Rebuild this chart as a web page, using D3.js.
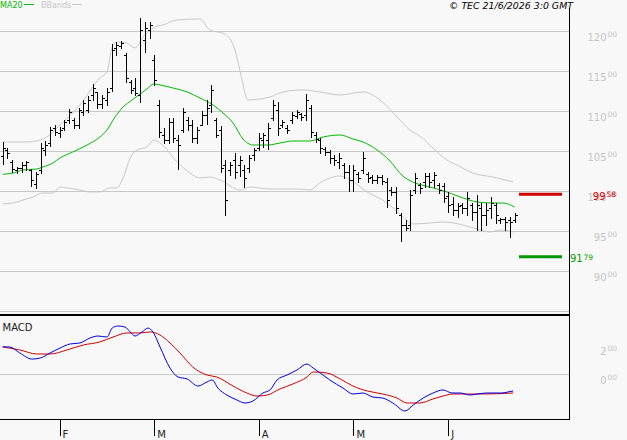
<!DOCTYPE html>
<html>
<head>
<meta charset="utf-8">
<script src="https://cdn.jsdelivr.net/npm/d3@7"></script>
<style>
body { margin: 0; background: #f8f8f8; }
svg { display: block; font-family: "DejaVu Sans", sans-serif; }
</style>
</head>
<body>
<div id="chart"></div>
<script>
// daily OHLC, one entry per trading day
var opens = [
    104.38,105.13,103.63,102.63,102.88,103.25,102.63,100.88,102.63,105.13,
    106.0,107.88,107.25,107.88,108.88,108.88,108.25,109.88,110.13,112.0,
    112.38,110.88,111.38,112.88,117.88,118.13,117.0,113.63,112.88,112.0,
    118.88,120.13,116.38,110.75,107.0,106.38,108.63,106.38,107.63,108.88,
    108.25,106.63,108.25,109.5,110.75,108.88,107.63,103.25,102.63,103.88,
    103.25,102.63,102.88,104.5,105.38,106.38,106.38,109.13,110.13,108.25,
    107.88,108.88,109.38,109.63,109.5,110.38,107.0,106.38,105.25,104.88,
    104.13,103.63,103.25,102.38,101.38,102.13,102.63,102.13,101.75,101.38,
    101.75,101.13,100.13,99.88,97.0,95.75,95.75,100.13,100.75,101.13,
    101.88,101.38,100.75,100.63,99.38,98.38,97.63,98.25,97.88,98.25,
    97.38,97.88,97.0,97.88,98.25,96.38,96.5,96.38,96.38];
var highs = [
    106.13,105.38,103.88,103.0,103.63,103.75,102.75,102.38,106.0,106.25,
    108.0,108.25,108.0,108.88,110.25,109.13,110.38,111.38,111.88,113.38,
    112.38,112.0,112.88,118.38,118.63,118.75,117.25,113.88,114.13,121.63,
    121.13,121.13,117.0,111.38,107.88,109.13,109.13,107.0,110.38,109.25,
    108.88,108.0,110.0,111.38,113.25,109.13,108.13,103.88,103.63,104.75,
    104.38,103.25,104.5,105.38,107.25,107.25,108.5,111.38,111.13,108.88,
    108.25,109.88,110.13,109.75,112.13,110.75,107.38,106.63,105.5,105.13,
    104.5,104.75,103.5,103.25,103.25,102.38,104.88,102.38,102.0,102.0,
    102.0,101.63,100.5,100.5,97.25,96.38,100.13,102.25,101.0,102.25,
    102.25,102.38,101.0,101.0,99.88,99.25,98.5,98.5,99.88,98.5,
    99.5,98.5,98.5,99.25,98.5,96.63,96.75,96.75,97.25];
var lows = [
    103.38,104.13,102.38,102.25,102.38,102.63,100.63,100.38,102.25,104.5,
    105.63,107.0,106.75,107.63,108.5,107.88,107.88,109.5,109.88,111.38,
    110.38,110.38,110.75,112.5,117.0,117.88,113.63,112.25,112.0,111.13,
    117.38,119.13,113.25,106.75,106.0,106.0,106.13,102.75,107.38,107.63,
    106.13,106.0,108.25,108.38,109.88,106.75,102.38,97.0,102.0,101.63,
    101.88,100.5,102.38,103.88,105.13,105.5,105.25,108.88,107.0,108.0,
    107.25,108.5,109.13,108.88,108.88,106.75,106.13,104.75,104.5,103.5,
    103.25,102.88,101.63,100.0,100.0,101.13,102.25,101.13,101.0,101.0,
    100.88,98.0,99.5,97.25,93.75,95.13,95.13,99.75,99.75,100.5,
    100.5,100.5,99.75,98.63,97.38,97.0,96.75,97.25,97.0,96.38,
    95.13,95.13,95.75,96.63,96.0,96.0,95.13,94.25,96.13];
var closes = [
    105.38,104.75,102.75,102.88,103.25,103.63,101.38,102.13,105.38,105.75,
    107.63,107.38,107.63,108.63,109.88,108.25,110.13,111.0,111.38,112.88,
    110.88,111.63,112.38,117.63,118.25,118.5,114.13,112.63,112.25,120.13,
    120.38,120.75,113.88,107.38,106.38,108.63,106.63,105.75,109.88,108.25,
    106.63,107.63,109.5,110.38,112.63,107.0,102.88,98.88,103.25,102.38,
    103.88,101.63,104.13,105.13,106.63,107.0,107.88,110.75,107.88,108.63,
    107.63,109.5,109.88,109.25,111.38,107.38,106.5,105.38,104.88,104.13,
    103.88,104.13,102.38,101.38,102.63,101.63,104.13,101.63,101.38,101.75,
    101.25,98.88,99.88,97.88,95.75,95.38,99.5,101.63,100.38,101.88,
    101.13,102.0,100.13,99.13,98.25,97.63,98.13,97.88,99.13,97.38,
    98.25,97.0,97.63,98.5,97.0,96.5,96.13,96.13,97.0];

var maIdx = [0,2.2,4.3,7.2,8.5,10.6,12.1,14.8,17.8,20.5,22,23.7,25.4,27.3,29,30.4,31.9,33.2,35.9,38.9,41.6,44.4,46.5,48.6,50.7,52.8,56,58.5,61.2,64.8,67.6,71.2,73.9,76,79,81.7,84.4,86.5,90.1,93.7,97.1,100.1,103.4,105.5,108];
var maVal = [102.09,102.25,102.63,102.75,103.0,103.5,104.13,104.88,105.75,106.75,107.63,109.25,110.5,111.38,112.13,112.75,113.38,113.25,112.88,112.38,111.63,110.75,109.75,108.5,106.5,105.75,105.75,106.0,106.25,106.25,106.75,107.0,106.5,106.13,105.13,103.75,101.88,101.13,100.5,99.88,99.13,98.63,98.5,98.5,98.0];
var upIdx = [0,5.1,7.9,9.3,12.1,16.3,20.5,22,23.1,24.3,26.2,27.9,29.6,31.7,33.8,36.8,41.6,43.7,46.9,49,50.5,51.7,56.4,59.1,63.4,66.9,71.2,76,79.6,83.2,85.9,88,91.2,93.7,95.8,99.2,103.4,107.7];
var upVal = [106.13,106.13,106.38,106.75,108.25,110.75,114.13,114.88,118.0,118.63,118.5,117.88,119.25,120.38,120.75,121.38,121.5,120.13,119.63,117.63,113.88,111.38,111.75,112.38,112.63,112.38,112.0,112.38,111.38,109.25,107.63,106.88,105.13,103.88,103.25,102.25,101.75,101.13];
var loIdx = [0,2.2,4.3,6.4,8.5,10.6,12.1,13.6,16.3,18.4,20.5,22.6,24.1,25.4,26.9,28.3,30.4,31.9,33.2,36.8,39.5,41.6,43.7,45.8,50.1,52.2,56.4,62.7,64.8,66.9,71.2,73.3,76.9,81.1,83.8,86.6,90.1,92.9,97.1,100.7,102.8,104.9,107.7];
var loVal = [98.38,98.5,98.88,99.25,99.75,99.75,100.5,100.38,100.13,99.88,99.88,100.38,100.38,101.63,104.13,105.13,105.5,106.38,106.0,103.63,102.25,101.63,101.75,101.38,100.13,100.5,100.25,100.25,100.13,101.0,101.88,101.38,99.88,98.5,97.13,95.88,96.0,96.13,95.75,95.13,94.88,95.13,94.88];

// macd (blue) and signal (red)
var macdIdx = [0,1.5,3.6,6.2,7.9,10,12.1,14.2,16.3,18.4,20.1,22,23.1,24.3,25.8,26.9,27.9,29.4,30.7,31.7,33.2,35.3,37,38.9,41.2,43.1,44.2,45.4,47.3,49.4,51.1,52.8,54.9,56.4,57.9,60,62.1,64.2,65.5,67,69,71.8,73.9,76,78.1,80.2,82.3,84.9,86.6,88.7,90.8,92.9,94.8,96.5,98.6,100.1,102.2,105.3,106.6,107.7];
var macdVal = [1.88,1.86,1.45,1.03,1.10,1.45,1.79,2.07,2.14,2.48,2.62,2.55,3.17,3.31,3.24,2.90,2.62,2.90,3.17,2.90,1.86,0.41,-0.21,-0.34,-0.83,-0.55,-0.41,-0.97,-1.45,-1.79,-2.0,-1.86,-1.31,-1.10,-0.41,-0.07,0.28,0.69,0.41,0.07,-0.41,-0.97,-1.38,-1.31,-1.59,-1.66,-2.0,-2.55,-2.14,-1.66,-1.31,-1.10,-1.31,-1.31,-1.45,-1.38,-1.31,-1.31,-1.24,-1.17];
var sigIdx = [0,3.6,7.2,10,13.6,17,20.5,23.3,26.2,29,31.1,33.2,35.3,37.4,40.1,43.1,45.2,48.6,51.5,53.7,55.8,58.5,61.2,64.2,65.5,68.4,71.2,73.9,76.9,80.2,83.2,85.3,88,90.8,92.9,95,101.3,107.7];
var sigVal = [1.86,1.66,1.38,1.38,1.66,2.0,2.21,2.55,2.83,2.83,2.90,2.69,2.14,1.45,0.48,-0.07,-0.21,-0.83,-1.31,-1.52,-1.45,-1.03,-0.69,-0.21,0.14,0.07,-0.34,-0.83,-1.17,-1.38,-1.66,-2.0,-2.0,-1.72,-1.52,-1.38,-1.38,-1.31];

// axis labels
var monthIdx = [12, 32, 54, 74, 94];
var monthLabels = ["F", "M", "A", "M", "J"];
var gridTicks = [85, 90, 95, 100, 105, 110, 115, 120];
var priceTicks = [90, 95, 100, 105, 110, 115, 120];
var macdTicks = [0, 2];
var resistance = 99.58, support = 91.79;

var width = 627, height = 440;
var plotRight = 569;

var svg = d3.select("#chart")
    .append("svg")
    .attr("width", width)
    .attr("height", height);

svg.append("rect").attr("width", width).attr("height", height).attr("fill", "#f8f8f8");

var x = d3.scaleLinear().domain([0, 108]).range([2.7, 514.6]);
var y = d3.scaleLinear().domain([85, 120]).range([311, 31]);
var ym = d3.scaleLinear().domain([0, 2]).range([374, 345]);

// price grid
svg.append("g")
    .attr("class", "grid")
    .call(d3.axisLeft(y).tickValues(gridTicks).tickSize(-plotRight).tickFormat(""))
    .call(function(g){ g.select(".domain").remove(); })
    .selectAll("line")
    .attr("stroke", "#c8c8c8")
    .attr("shape-rendering", "crispEdges");

// macd zero line
svg.append("line")
    .attr("x1", 0).attr("x2", plotRight)
    .attr("y1", Math.round(ym(0)) + 0.5).attr("y2", Math.round(ym(0)) + 0.5)
    .attr("stroke", "#c8c8c8");

// right axis labels with small superscript decimals
function addLabel(v, intPart, decPart, fill, xEnd, bigDy, smallDy, anchorStart){
    var t = svg.append("g");
    var big = t.append("text")
        .attr("y", v + bigDy)
        .attr("font-size", 10)
        .attr("fill", fill)
        .text(intPart);
    var small = t.append("text")
        .attr("y", v + smallDy)
        .attr("font-size", 7.5)
        .attr("fill", fill)
        .text(decPart);
    if (anchorStart){
        big.attr("x", xEnd);
        small.attr("x", xEnd + 13.5);
    } else {
        big.attr("x", xEnd).attr("text-anchor", "end");
        small.attr("x", xEnd + 1);
    }
}
priceTicks.forEach(function(p){
    addLabel(y(p), String(p), "00", "#c4c4c4", 606.5, 9.7, 6.3, false);
});
macdTicks.forEach(function(m){
    addLabel(ym(m), String(m), "00", "#c4c4c4", 606.5, 9.5, 6, false);
});

// bollinger bands and moving average
var line = d3.line()
    .x(function(d){ return x(d[0]); })
    .y(function(d){ return y(d[1]); })
    .curve(d3.curveMonotoneX);

svg.append("path").datum(d3.zip(upIdx, upVal))
    .attr("d", line).attr("fill", "none").attr("stroke", "#c8c8c8").attr("stroke-width", 1);
svg.append("path").datum(d3.zip(loIdx, loVal))
    .attr("d", line).attr("fill", "none").attr("stroke", "#c8c8c8").attr("stroke-width", 1);
svg.append("path").datum(d3.zip(maIdx, maVal))
    .attr("d", line).attr("fill", "none").attr("stroke", "#00bb00").attr("stroke-width", 1);

// ohlc bars
var bars = svg.append("g")
    .attr("stroke", "#000")
    .attr("stroke-width", 1)
    .attr("shape-rendering", "crispEdges");
for (i = 0; i < closes.length; i++){
    var bx = Math.round(x(i)) + 0.5;
    bars.append("line")
        .attr("x1", bx).attr("x2", bx)
        .attr("y1", Math.round(y(highs[i]))).attr("y2", Math.round(y(lows[i])) + 1);
    bars.append("line")
        .attr("x1", bx - 2.5).attr("x2", bx)
        .attr("y1", Math.round(y(opens[i])) + 0.5).attr("y2", Math.round(y(opens[i])) + 0.5);
    bars.append("line")
        .attr("x1", bx).attr("x2", bx + 2.5)
        .attr("y1", Math.round(y(closes[i])) + 0.5).attr("y2", Math.round(y(closes[i])) + 0.5);
}

// resistance / support markers
svg.append("line")
    .attr("x1", 519).attr("x2", 562)
    .attr("y1", y(resistance)).attr("y2", y(resistance))
    .attr("stroke", "#d00000").attr("stroke-width", 3);
svg.append("line")
    .attr("x1", 519).attr("x2", 562)
    .attr("y1", y(support)).attr("y2", y(support))
    .attr("stroke", "#009900").attr("stroke-width", 3);
addLabel(y(resistance), "99", "58", "#d00000", 605.5, 5.3, 3, false);
addLabel(y(support), "91", "79", "#009900", 570, 5, 3.5, true);

// macd lines
var mline = d3.line()
    .x(function(d){ return x(d[0]); })
    .y(function(d){ return ym(d[1]); })
    .curve(d3.curveMonotoneX);
svg.append("path").datum(d3.zip(sigIdx, sigVal))
    .attr("d", mline).attr("fill", "none").attr("stroke", "#d00000").attr("stroke-width", 1);
svg.append("path").datum(d3.zip(macdIdx, macdVal))
    .attr("d", mline).attr("fill", "none").attr("stroke", "#0000e0").attr("stroke-width", 1);

// panel borders
svg.append("line")
    .attr("x1", 0).attr("x2", plotRight).attr("y1", 315).attr("y2", 315)
    .attr("stroke", "#000").attr("stroke-width", 2);
svg.append("line")
    .attr("x1", 0).attr("x2", plotRight + 0.5).attr("y1", 419.5).attr("y2", 419.5)
    .attr("stroke", "#000").attr("stroke-width", 1);
svg.append("line")
    .attr("x1", plotRight + 0.5).attr("x2", plotRight + 0.5).attr("y1", 8).attr("y2", 420)
    .attr("stroke", "#000").attr("stroke-width", 1);

// month axis
var xAxis = svg.append("g")
    .attr("transform", "translate(0,419)")
    .call(d3.axisBottom(x).tickValues(monthIdx).tickSize(17)
        .tickFormat(function(d, k){ return monthLabels[k]; }));
xAxis.select(".domain").remove();
xAxis.selectAll("line").attr("stroke", "#000").attr("shape-rendering", "crispEdges");
xAxis.selectAll("text")
    .attr("x", 2.5).attr("y", 18.5).attr("dy", 0)
    .attr("text-anchor", "start")
    .attr("font-family", "DejaVu Sans")
    .attr("font-size", 10)
    .attr("fill", "#222");

// macd title
svg.append("text")
    .attr("x", 2.5).attr("y", 331)
    .attr("font-size", 10)
    .attr("fill", "#222")
    .text("MACD");

// legend
svg.append("text").attr("x", 0).attr("y", 8).attr("font-size", 8).attr("fill", "#00bb00").text("MA20");
svg.append("line").attr("x1", 24).attr("x2", 34).attr("y1", 4.5).attr("y2", 4.5).attr("stroke", "#00bb00");
svg.append("text").attr("x", 41).attr("y", 8).attr("font-size", 8).attr("fill", "#c4c4c4").text("BBands");
svg.append("line").attr("x1", 72).attr("x2", 82).attr("y1", 4.5).attr("y2", 4.5).attr("stroke", "#c4c4c4");

svg.append("text")
    .attr("x", 449).attr("y", 8.5)
    .attr("font-size", 8.5)
    .attr("font-style", "italic")
    .attr("fill", "#000")
    .attr("textLength", 124)
    .attr("lengthAdjust", "spacingAndGlyphs")
    .text("\u00a9 TEC 21/6/2026 3:0 GMT");
</script>
</body>
</html>
